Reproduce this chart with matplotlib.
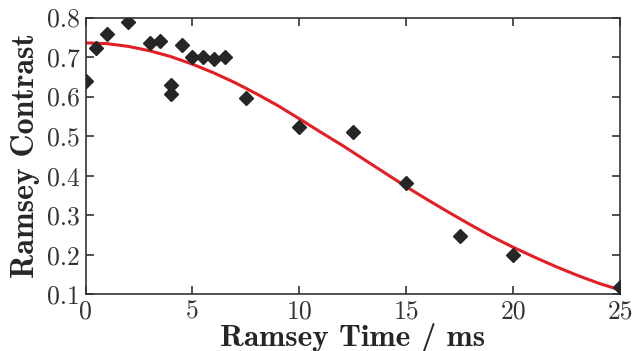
import numpy as np
import matplotlib
matplotlib.use("Agg")
import matplotlib.pyplot as plt

t_ms = [0, 0.5, 1, 2, 3, 3.5, 4, 4, 4.5, 5, 5.5, 6, 6.5, 7.5, 10, 12.5, 15, 17.5, 20, 25]
contrast = [0.639, 0.724, 0.759, 0.789, 0.735, 0.740, 0.629, 0.606, 0.730, 0.699,
            0.699, 0.695, 0.699, 0.597, 0.523, 0.510, 0.382, 0.248, 0.199, 0.119]

# fitted curve, values
fit_t = [0, 1, 2, 3, 4, 5, 6, 7, 8, 9, 10, 11, 12, 13, 14, 15, 16, 17, 18, 19,
         20, 21, 22, 23, 24, 25]
fit_c = [0.736, 0.734, 0.727, 0.716, 0.701, 0.682, 0.660, 0.635, 0.607, 0.577,
         0.544, 0.510, 0.477, 0.442, 0.407, 0.372, 0.339, 0.307, 0.276, 0.246,
         0.219, 0.194, 0.170, 0.148, 0.128, 0.111]

xticks = [0, 5, 10, 15, 20, 25]
yticks = [0.1, 0.2, 0.3, 0.4, 0.5, 0.6, 0.7, 0.8]

plt.rcParams['axes.unicode_minus'] = False
plt.rcParams['axes.formatter.use_mathtext'] = True

fig = plt.figure(figsize=(6.34, 3.51), dpi=100)
ax = fig.add_axes([0.135, 0.1615, 0.843, 0.7885])

ax.plot(fit_t, fit_c, color='#e31e24', lw=2.2, zorder=2)
ax.plot(t_ms, contrast, 'D', color='#262626', ms=7.6, mec='#262626', zorder=3)

ax.set_xlim(0, 25)
ax.set_ylim(0.1, 0.8)
ax.set_xticks(xticks)
ax.set_yticks(yticks)
ax.set_xticklabels([str(v) for v in xticks], family='cmr10', fontsize=18.5)
ax.set_yticklabels([f'{v:.1f}' for v in yticks], family='cmr10', fontsize=18.5)

ax.tick_params(direction='in', top=True, right=True, length=6, width=1.2,
               color='#333333', labelcolor='#333333')
ax.tick_params(axis='x', pad=4)
ax.tick_params(axis='y', pad=4)
for sp in ax.spines.values():
    sp.set_color('#333333')
    sp.set_linewidth(1.2)

ax.set_xlabel('Ramsey Time / ms', family='cmb10', fontsize=22.5, color='#262626', labelpad=-0.5)
ax.set_ylabel('Ramsey Contrast', family='cmb10', fontsize=23, color='#262626', labelpad=5)

fig.savefig('out.png', dpi=100)
